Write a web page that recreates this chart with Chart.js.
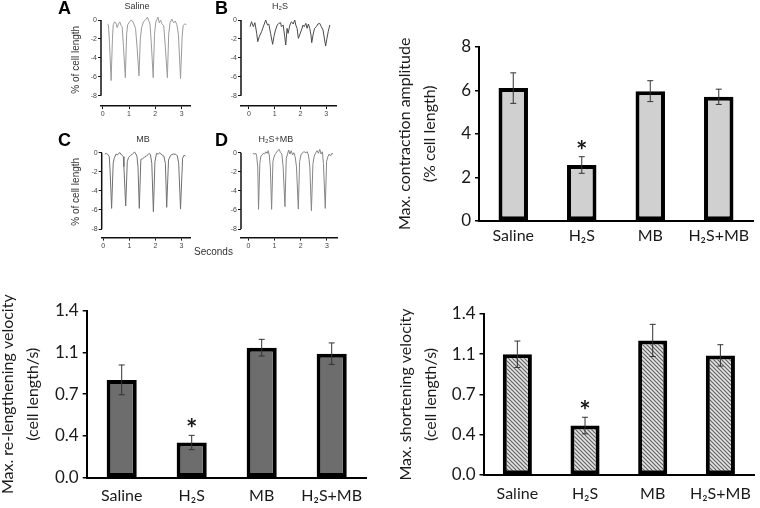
<!DOCTYPE html>
<html>
<head>
<meta charset="utf-8">
<script src="https://cdn.jsdelivr.net/npm/chart.js@4/dist/chart.umd.min.js"></script>
<style>
  body { margin: 0; background: #fff; }
  #fig { position: relative; width: 760px; height: 508px; overflow: hidden; }
  #fig canvas { position: absolute; }
  .tag { position: absolute; font: bold 18px 'Liberation Sans', Arial, sans-serif; line-height: 18px; color: #000; }
  .ttl { position: absolute; width: 100px; text-align: center; font: 9px 'Liberation Sans', Arial, sans-serif; line-height: 10px; color: #333; }
  .note { position: absolute; font: 10px 'Liberation Sans', Arial, sans-serif; color: #333; }
</style>
</head>
<body>
<div id="fig">
  <canvas id="trace-saline"></canvas>
  <canvas id="trace-h2s"></canvas>
  <canvas id="trace-mb"></canvas>
  <canvas id="trace-h2smb"></canvas>
  <canvas id="amplitude"></canvas>
  <canvas id="relengthening"></canvas>
  <canvas id="shortening"></canvas>
  <div class="tag" style="left:58px;top:-1px">A</div>
  <div class="tag" style="left:215px;top:-1px">B</div>
  <div class="tag" style="left:58px;top:131px">C</div>
  <div class="tag" style="left:215px;top:131px">D</div>
  <div class="ttl" style="left:87px;top:1px">Saline</div>
  <div class="ttl" style="left:230px;top:1px">H₂S</div>
  <div class="ttl" style="left:93px;top:134px">MB</div>
  <div class="ttl" style="left:226px;top:134px">H₂S+MB</div>
  <div class="note" style="left:194px;top:246px">Seconds</div>
</div>
<script>
// bar panels
const groups = ["Saline", "H\u2082S", "MB", "H\u2082S+MB"]
const amplitude = [6.1, 2.57, 5.96, 5.7]
const amplitudeErr = [0.7, 0.38, 0.48, 0.35]
const relengthening = [0.82, 0.295, 1.09, 1.04]
const relengtheningErr = [0.125, 0.06, 0.07, 0.09]
const shortening = [1.05, 0.43, 1.17, 1.04]
const shorteningErr = [0.115, 0.072, 0.14, 0.093]
const significance = ["", "*", "", ""]
const amplitudeTicks = [0, 2, 4, 6, 8]
const velocityTicks = [0, 0.35, 0.7, 1.05, 1.4]
const velocityTickLabels = ["0.0", "0.4", "0.7", "1.1", "1.4"]

// cell length traces (seconds, % of cell length)
const secondTicks = [0, 1, 2, 3]
const lengthTicks = [0, -2, -4, -6, -8]
const salineTime = [0.19,0.22,0.26,0.32,0.37,0.40,0.45,0.50,0.55,0.60,0.65,0.70,0.74,0.79,0.86,0.91,0.95,1.02,1.08,1.13,1.20,1.25,1.31,1.38,1.43,1.48,1.55,1.65,1.70,1.77,1.80,1.85,1.92,1.97,2.02,2.10,2.15,2.20,2.25,2.32,2.38,2.46,2.51,2.56,2.63,2.70,2.76,2.82,2.88,2.96,3.02,3.06,3.12,3.18]
const salineTrace = [-0.4,-0.6,-2.5,-6.4,-2.0,-0.5,-0.2,-0.3,-0.8,-0.4,-0.2,-0.6,-0.7,-2.8,-6.1,-1.5,-0.5,-0.2,0.0,-0.1,-0.5,-0.9,-3.0,-5.9,-2.0,-0.8,-0.2,0.1,0.3,-0.2,-0.5,-2.5,-6.1,-1.5,-0.2,0.3,-0.3,0.0,-0.4,-0.6,-2.8,-6.1,-1.5,-0.3,0.1,-0.3,-0.1,-0.5,-1.5,-6.2,-1.8,-0.6,-0.4,-0.5]
const h2sTime = [0.04,0.10,0.17,0.23,0.30,0.34,0.40,0.49,0.58,0.65,0.72,0.77,0.84,0.92,0.97,1.03,1.10,1.16,1.23,1.26,1.33,1.39,1.43,1.48,1.52,1.59,1.65,1.72,1.78,1.82,1.87,1.92,1.97,2.04,2.10,2.15,2.21,2.26,2.31,2.36,2.41,2.44,2.49,2.55,2.62,2.68,2.75,2.81,2.88,2.94,2.98,3.03,3.08,3.14]
const h2sTrace = [-0.70,-0.18,-0.70,-0.28,-1.41,-2.29,-1.76,-1.23,-0.53,0,-0.53,-0.42,-1.41,-2.57,-1.76,-1.06,-0.53,-0.35,-0.28,-0.70,-0.53,-1.76,-2.64,-0.88,-1.41,-0.53,-0.18,-0.42,0,-0.53,-0.88,-1.94,-1.58,-1.06,-0.53,-0.70,-0.35,-0.88,-0.42,-0.88,-1.58,-2.39,-1.58,-0.88,-0.70,-0.42,-0.35,-0.70,-1.06,-2.11,-2.75,-1.94,-1.23,-0.53]
const mbTime = [0.06,0.13,0.19,0.23,0.26,0.32,0.38,0.42,0.49,0.54,0.59,0.64,0.70,0.77,0.79,0.86,0.92,0.97,1.05,1.12,1.20,1.25,1.29,1.33,1.38,1.44,1.51,1.57,1.66,1.76,1.81,1.86,1.92,1.98,2.04,2.11,2.17,2.25,2.32,2.38,2.43,2.50,2.58,2.68,2.78,2.84,2.89,2.96,3.04,3.09,3.15]
const mbTrace = [-0.14,-0.07,-0.24,-0.42,-1.82,-5.84,-1.12,-0.59,-0.14,-0.24,-0.07,0,-0.24,-0.42,-1.47,-5.59,-0.94,-0.49,-0.28,-0.14,0.07,-0.14,-0.35,-1.47,-5.84,-0.70,-0.63,-0.49,-0.35,-0.07,-0.24,-1.12,-6.19,-0.94,-0.07,-0.14,0,-0.24,-0.35,-1.12,-5.73,-0.77,-0.28,-0.14,-0.17,-0.35,-1.12,-5.91,-0.59,-0.28,-0.35]
const h2smbTime = [0.17,0.23,0.29,0.32,0.36,0.39,0.44,0.48,0.53,0.57,0.62,0.67,0.72,0.76,0.80,0.84,0.89,0.94,0.99,1.05,1.12,1.18,1.23,1.28,1.33,1.40,1.45,1.50,1.54,1.59,1.64,1.69,1.74,1.79,1.84,1.91,1.96,2.01,2.07,2.13,2.20,2.25,2.30,2.35,2.41,2.47,2.52,2.58,2.63,2.68,2.73,2.78,2.83,2.87,2.94,2.99,3.04,3.09,3.14,3.19,3.24]
const h2smbTrace = [-0.07,-0.14,-0.07,-0.42,-1.47,-5.94,-1.12,-0.35,-0.24,-0.07,-0.14,0.10,-0.07,0.21,-0.24,-1.47,-5.94,-0.94,-0.35,-0.07,0.21,0.35,0,-0.14,-1.47,-5.66,-0.59,-0.14,0.28,-0.14,0.21,-0.24,0,-0.42,-1.47,-5.91,-0.94,-0.24,0,0.10,0,0.10,-0.24,-1.47,-6.08,-1.12,-0.35,0,0.21,-0.07,0.35,-0.14,0.10,-1.12,-5.84,-0.94,-0.42,-0.14,-0.35,-0.07,-0.14]

const barFont = "Lato, 'Noto Sans', sans-serif"
const traceFont = "'Liberation Sans', Arial, sans-serif"
const ink = "#1a1a1a"

function place(id, box) {
    const canvas = document.getElementById(id)
    canvas.width = box.width
    canvas.height = box.height
    canvas.style.left = box.left + "px"
    canvas.style.top = box.top + "px"
    return canvas
}

// y axis of the traces only runs from 0 to -8, detached from the x axis
const lengthAxis = {
    id: "lengthAxis",
    afterDraw(chart) {
        const y = chart.scales.y
        const x = chart.chartArea.left
        const ctx = chart.ctx
        ctx.save()
        ctx.strokeStyle = "#111"
        ctx.lineWidth = 1.5
        ctx.beginPath()
        ctx.moveTo(x, y.getPixelForValue(lengthTicks[0]))
        ctx.lineTo(x, y.getPixelForValue(lengthTicks[lengthTicks.length - 1]))
        ctx.stroke()
        ctx.restore()
    }
}

const errorBars = {
    id: "errorBars",
    afterDatasetsDraw(chart, args, opts) {
        const ctx = chart.ctx
        const y = chart.scales.y
        const values = chart.data.datasets[0].data
        ctx.save()
        chart.getDatasetMeta(0).data.forEach((bar, i) => {
            const top = y.getPixelForValue(values[i] + opts.errors[i])
            const bottom = y.getPixelForValue(values[i] - opts.errors[i])
            ctx.strokeStyle = "#333"
            ctx.lineWidth = 1
            ctx.beginPath()
            ctx.moveTo(bar.x, top)
            ctx.lineTo(bar.x, bottom)
            ctx.moveTo(bar.x - 3, top)
            ctx.lineTo(bar.x + 3, top)
            ctx.moveTo(bar.x - 3, bottom)
            ctx.lineTo(bar.x + 3, bottom)
            ctx.stroke()
            if (opts.marks[i]) {
                ctx.fillStyle = ink
                ctx.font = "bold 27px " + barFont
                ctx.textAlign = "center"
                ctx.textBaseline = "alphabetic"
                ctx.fillText(opts.marks[i], bar.x, top + 3)
            }
        })
        ctx.restore()
    }
}

function traceChart(p) {
    const canvas = place(p.id, p.box)
    const points = p.time.map((t, i) => ({ x: t, y: p.trace[i] }))
    new Chart(canvas, {
        type: "line",
        data: { datasets: [{ data: points, borderColor: p.color, borderWidth: 1, pointRadius: 0, tension: 0 }] },
        options: {
            responsive: false,
            animation: false,
            events: [],
            layout: { padding: { top: p.area.top - p.box.top, right: p.box.left + p.box.width - p.area.right } },
            plugins: { legend: { display: false }, tooltip: { enabled: false } },
            scales: {
                x: {
                    type: "linear",
                    min: p.x[0],
                    max: p.x[1],
                    afterBuildTicks: s => { s.ticks = secondTicks.map(v => ({ value: v })) },
                    afterFit: s => { s.height = p.box.top + p.box.height - p.area.bottom },
                    border: { color: "#111", width: 1.5 },
                    grid: { drawOnChartArea: false, tickLength: 3, color: "#111" },
                    ticks: { color: "#444", padding: 1, font: { family: traceFont, size: 7 } }
                },
                y: {
                    min: p.yMin,
                    max: 0.7,
                    afterBuildTicks: s => { s.ticks = lengthTicks.map(v => ({ value: v })) },
                    afterFit: s => { s.width = p.area.left - p.box.left },
                    border: { display: false },
                    grid: { drawOnChartArea: false, tickLength: 3, color: "#111" },
                    ticks: { color: "#444", padding: 1, font: { family: traceFont, size: 7 } },
                    title: {
                        display: !!p.yTitle,
                        text: p.yTitle,
                        color: "#333",
                        font: { family: traceFont, size: 10 },
                        padding: { top: 6, bottom: 0 }
                    }
                }
            }
        },
        plugins: [lengthAxis]
    })
}

function barChart(p) {
    const canvas = place(p.id, p.box)
    new Chart(canvas, {
        type: "bar",
        data: {
            labels: groups,
            datasets: [{
                data: p.values,
                backgroundColor: p.fill,
                borderColor: "#000",
                borderWidth: 4,
                borderSkipped: false,
                categoryPercentage: 1,
                barPercentage: 0.43
            }]
        },
        options: {
            responsive: false,
            animation: false,
            events: [],
            layout: { padding: { top: p.area.top - p.box.top, right: p.box.left + p.box.width - p.area.right } },
            plugins: {
                legend: { display: false },
                tooltip: { enabled: false },
                errorBars: { errors: p.errors, marks: significance }
            },
            scales: {
                x: {
                    afterFit: s => { s.height = p.box.top + p.box.height - p.area.bottom },
                    border: { color: "#000", width: 2 },
                    grid: { display: false, drawTicks: false },
                    ticks: { color: ink, padding: p.labelGap, font: { family: barFont, size: 16 } }
                },
                y: {
                    min: p.ticks[0],
                    max: p.ticks[p.ticks.length - 1],
                    afterBuildTicks: s => { s.ticks = p.ticks.map(v => ({ value: v })) },
                    afterFit: s => { s.width = p.area.left - p.box.left },
                    border: { color: "#000", width: 2 },
                    grid: { drawOnChartArea: false, tickLength: 4, color: "#000", lineWidth: 1.5 },
                    ticks: {
                        color: ink,
                        padding: 4,
                        font: { family: barFont, size: 17 },
                        callback: (v, i) => p.tickLabels[i]
                    },
                    title: {
                        display: true,
                        text: p.title,
                        color: ink,
                        font: { family: barFont, size: 16, lineHeight: "25px" },
                        padding: { top: p.titleGap, bottom: 0 }
                    }
                }
            }
        },
        plugins: [errorBars]
    })
}

function hatch() {
    const tile = document.createElement("canvas")
    tile.width = 4
    tile.height = 4
    const g = tile.getContext("2d")
    g.fillStyle = "#e4e4e4"
    g.fillRect(0, 0, 4, 4)
    g.strokeStyle = "#636363"
    g.lineWidth = 1.2
    g.beginPath()
    g.moveTo(-1, -1); g.lineTo(5, 5)
    g.moveTo(-1, 3); g.lineTo(1, 5)
    g.moveTo(3, -1); g.lineTo(5, 1)
    g.stroke()
    return g.createPattern(tile, "repeat")
}

traceChart({ id: "trace-saline", time: salineTime, trace: salineTrace, color: "#9b9b9b", yTitle: "% of cell length",
    box: { left: 64, top: 0, width: 140, height: 122 }, area: { left: 101, top: 13.4, right: 190, bottom: 106.1 }, x: [-0.065, 3.32], yMin: -9.1 })
traceChart({ id: "trace-h2s", time: h2sTime, trace: h2sTrace, color: "#4a4a4a", yTitle: "",
    box: { left: 215, top: 0, width: 130, height: 122 }, area: { left: 241, top: 13.4, right: 336.7, bottom: 106.1 }, x: [-0.31, 3.41], yMin: -9.1 })
traceChart({ id: "trace-mb", time: mbTime, trace: mbTrace, color: "#707070", yTitle: "% of cell length",
    box: { left: 64, top: 126, width: 140, height: 132 }, area: { left: 101.7, top: 146, right: 190.7, bottom: 237.6 }, x: [-0.06, 3.35], yMin: -8.9 })
traceChart({ id: "trace-h2smb", time: h2smbTime, trace: h2smbTrace, color: "#858585", yTitle: "",
    box: { left: 215, top: 126, width: 130, height: 132 }, area: { left: 241, top: 146, right: 337.3, bottom: 237.6 }, x: [-0.28, 3.40], yMin: -8.9 })

barChart({ id: "amplitude", values: amplitude, errors: amplitudeErr, fill: "#d0d0d0",
    ticks: amplitudeTicks, tickLabels: amplitudeTicks.map(String),
    title: ["Max. contraction amplitude", "(% cell length)"], titleGap: 22.5, labelGap: 5,
    box: { left: 370, top: 20, width: 390, height: 240 }, area: { left: 479, top: 46.7, right: 753, bottom: 221 } })
barChart({ id: "relengthening", values: relengthening, errors: relengtheningErr, fill: "#6d6d6d",
    ticks: velocityTicks, tickLabels: velocityTickLabels,
    title: ["Max. re-lengthening velocity", "(cell length/s)"], titleGap: -4.5, labelGap: 9,
    box: { left: 0, top: 290, width: 380, height: 218 }, area: { left: 86.7, top: 310.7, right: 366.7, bottom: 477.7 } })
barChart({ id: "shortening", values: shortening, errors: shorteningErr, fill: hatch(),
    ticks: velocityTicks, tickLabels: velocityTickLabels,
    title: ["Max. shortening velocity", "(cell length/s)"], titleGap: 13.5, labelGap: 9,
    box: { left: 380, top: 290, width: 380, height: 218 }, area: { left: 483.5, top: 314, right: 758, bottom: 475 } })
</script>
</body>
</html>
